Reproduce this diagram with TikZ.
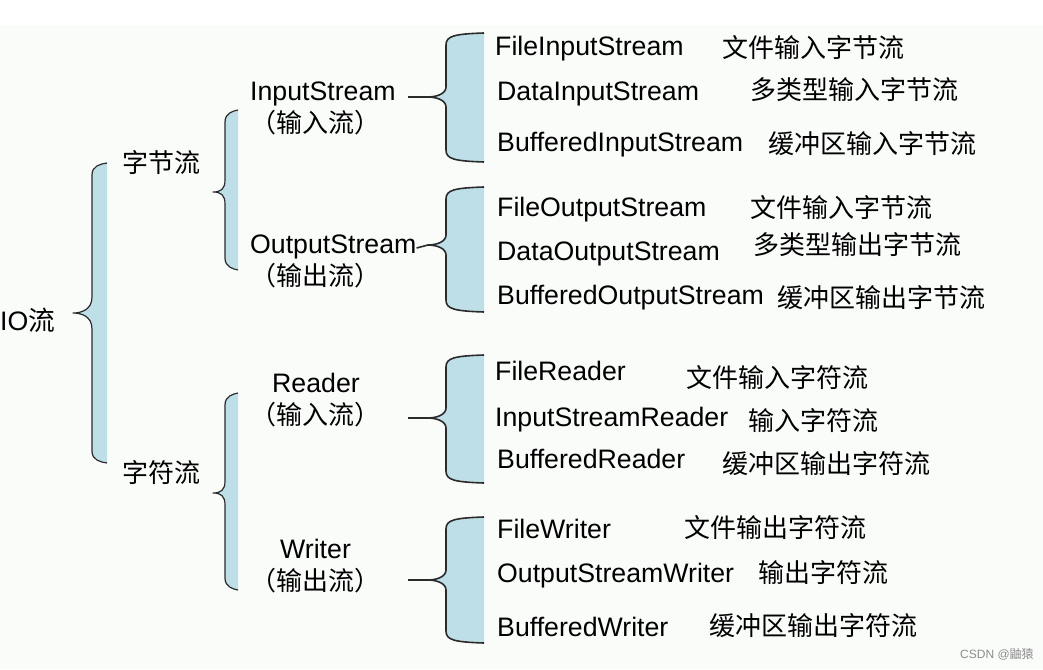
\documentclass[tikz,border=0pt]{standalone}
\usepackage{fontspec}
\setmainfont{Liberation Sans}
\newfontfamily\cjk{Noto Sans CJK SC}
\usepackage{tikz}
\definecolor{bracefill}{HTML}{BEDFE7}
\definecolor{braceline}{HTML}{2B2B2B}
\definecolor{paper}{HTML}{FAFCFA}

% #1 line style, #2 tip x, #3 curve x, #4 right x, #5 top y, #6 tip y, #7 bottom y, #8 cusp half height
\newcommand{\ioBrace}[8]{%
  \fill[bracefill] (#4,#5) .. controls ({#3+8},{#5+1}) and (#3,{#5+3}) .. (#3,{#5+12})
    -- (#3,{#6-#8}) .. controls (#3,{#6-3}) and ({#2+8},#6) .. (#2,#6)
    .. controls ({#2+8},#6) and (#3,{#6+3}) .. (#3,{#6+#8})
    -- (#3,{#7-12}) .. controls (#3,{#7-3}) and ({#3+8},{#7-1}) .. (#4,#7) -- cycle;
  \draw[#1] (#4,#5) .. controls ({#3+8},{#5+1}) and (#3,{#5+3}) .. (#3,{#5+12})
    -- (#3,{#6-#8}) .. controls (#3,{#6-3}) and ({#2+8},#6) .. (#2,#6)
    .. controls ({#2+8},#6) and (#3,{#6+3}) .. (#3,{#6+#8})
    -- (#3,{#7-12}) .. controls (#3,{#7-3}) and ({#3+8},{#7-1}) .. (#4,#7);
}

\begin{document}
\begin{tikzpicture}[
      x=1pt,y=-1pt,
      javatext/.style={font=\fontsize{26.7}{30}\selectfont,anchor=west,inner sep=0pt,
        text height=17pt,text depth=7pt,yshift=-3pt},
      zhtext/.style={javatext,font=\cjk\fontsize{26}{30}\selectfont},
      brace/.style={draw=braceline,line width=1.6pt,line join=round},
      thinbrace/.style={draw=braceline,line width=1.2pt,line join=round},
      stub/.style={draw=braceline,line width=1.6pt}
    ]
      \useasboundingbox (0,0) rectangle (1043,669);
      \fill[paper] (0,25) rectangle (1043,669);
      % braces
      \ioBrace{thinbrace}{73}{92}{107}{163}{313}{463}{16}
      \ioBrace{thinbrace}{213}{225}{238}{110}{192}{270}{12}
      \ioBrace{thinbrace}{213}{225}{238}{393}{493}{590}{12}
      \ioBrace{brace}{428}{446}{484}{33}{97}{162}{10}
      \ioBrace{brace}{428}{446}{484}{187}{245}{312}{10}
      \ioBrace{brace}{428}{446}{484}{355}{418}{483}{10}
      \ioBrace{brace}{428}{446}{484}{517}{580}{643}{10}
      % root and groups
      \node[javatext] (io) at (0,322) {IO{\cjk 流}};
      \node[zhtext] (byte) at (122,164) {字节流};
      \node[zhtext] (char) at (122,474) {字符流};
      \node[javatext] (instream) at (250,92) {InputStream};
      \node[zhtext] (instreamzh) at (250,124) {（输入流）};
      \node[javatext] (outstream) at (250,245) {OutputStream};
      \node[zhtext] (outstreamzh) at (250,277) {（输出流）};
      \node[javatext] (reader) at (272,384) {Reader};
      \node[zhtext] (readerzh) at (250,416) {（输入流）};
      \node[javatext] (writer) at (280,550) {Writer};
      \node[zhtext] (writerzh) at (250,582) {（输出流）};
      % stubs into the right braces
      \coordinate (inend) at (408,97);
      \coordinate (intip) at (428,97);
      \coordinate (outtip) at (428,245);
      \coordinate (readend) at (408,418);
      \coordinate (readtip) at (428,418);
      \coordinate (writeend) at (408,580);
      \coordinate (writetip) at (428,580);
      \draw[stub] (inend) -- (intip);
      \draw[stub] (outstream.east) -- (outtip);
      \draw[stub] (readend) -- (readtip);
      \draw[stub] (writeend) -- (writetip);
      % byte streams
      \node[javatext] (fis) at (495,48) {FileInputStream};
      \node[zhtext] (fiszh) at (722,49) {文件输入字节流};
      \node[javatext] (dis) at (497,92) {DataInputStream};
      \node[zhtext] (diszh) at (750,91) {多类型输入字节流};
      \node[javatext] (bis) at (497,143) {BufferedInputStream};
      \node[zhtext] (biszh) at (768,145) {缓冲区输入字节流};
      \node[javatext] (fos) at (497,208) {FileOutputStream};
      \node[zhtext] (foszh) at (750,209) {文件输入字节流};
      \node[javatext] (dos) at (497,252) {DataOutputStream};
      \node[zhtext] (doszh) at (753,246) {多类型输出字节流};
      \node[javatext] (bos) at (497,296) {BufferedOutputStream};
      \node[zhtext] (boszh) at (777,299) {缓冲区输出字节流};
      % character streams
      \node[javatext] (fr) at (495,372) {FileReader};
      \node[zhtext] (frzh) at (686,379) {文件输入字符流};
      \node[javatext] (isr) at (495,418) {InputStreamReader};
      \node[zhtext] (isrzh) at (748,422) {输入字符流};
      \node[javatext] (br) at (497,460) {BufferedReader};
      \node[zhtext] (brzh) at (722,465) {缓冲区输出字符流};
      \node[javatext] (fw) at (497,530) {FileWriter};
      \node[zhtext] (fwzh) at (684,529) {文件输出字符流};
      \node[javatext] (osw) at (497,574) {OutputStreamWriter};
      \node[zhtext] (oswzh) at (758,574) {输出字符流};
      \node[javatext] (bw) at (497,628) {BufferedWriter};
      \node[zhtext] (bwzh) at (709,627) {缓冲区输出字符流};
      \node[anchor=west,inner sep=0pt,text=black!45,font=\fontsize{12}{14}\selectfont]
        (mark) at (960,654) {CSDN @{\cjk 鼬猿}};
    \end{tikzpicture}
\end{document}
